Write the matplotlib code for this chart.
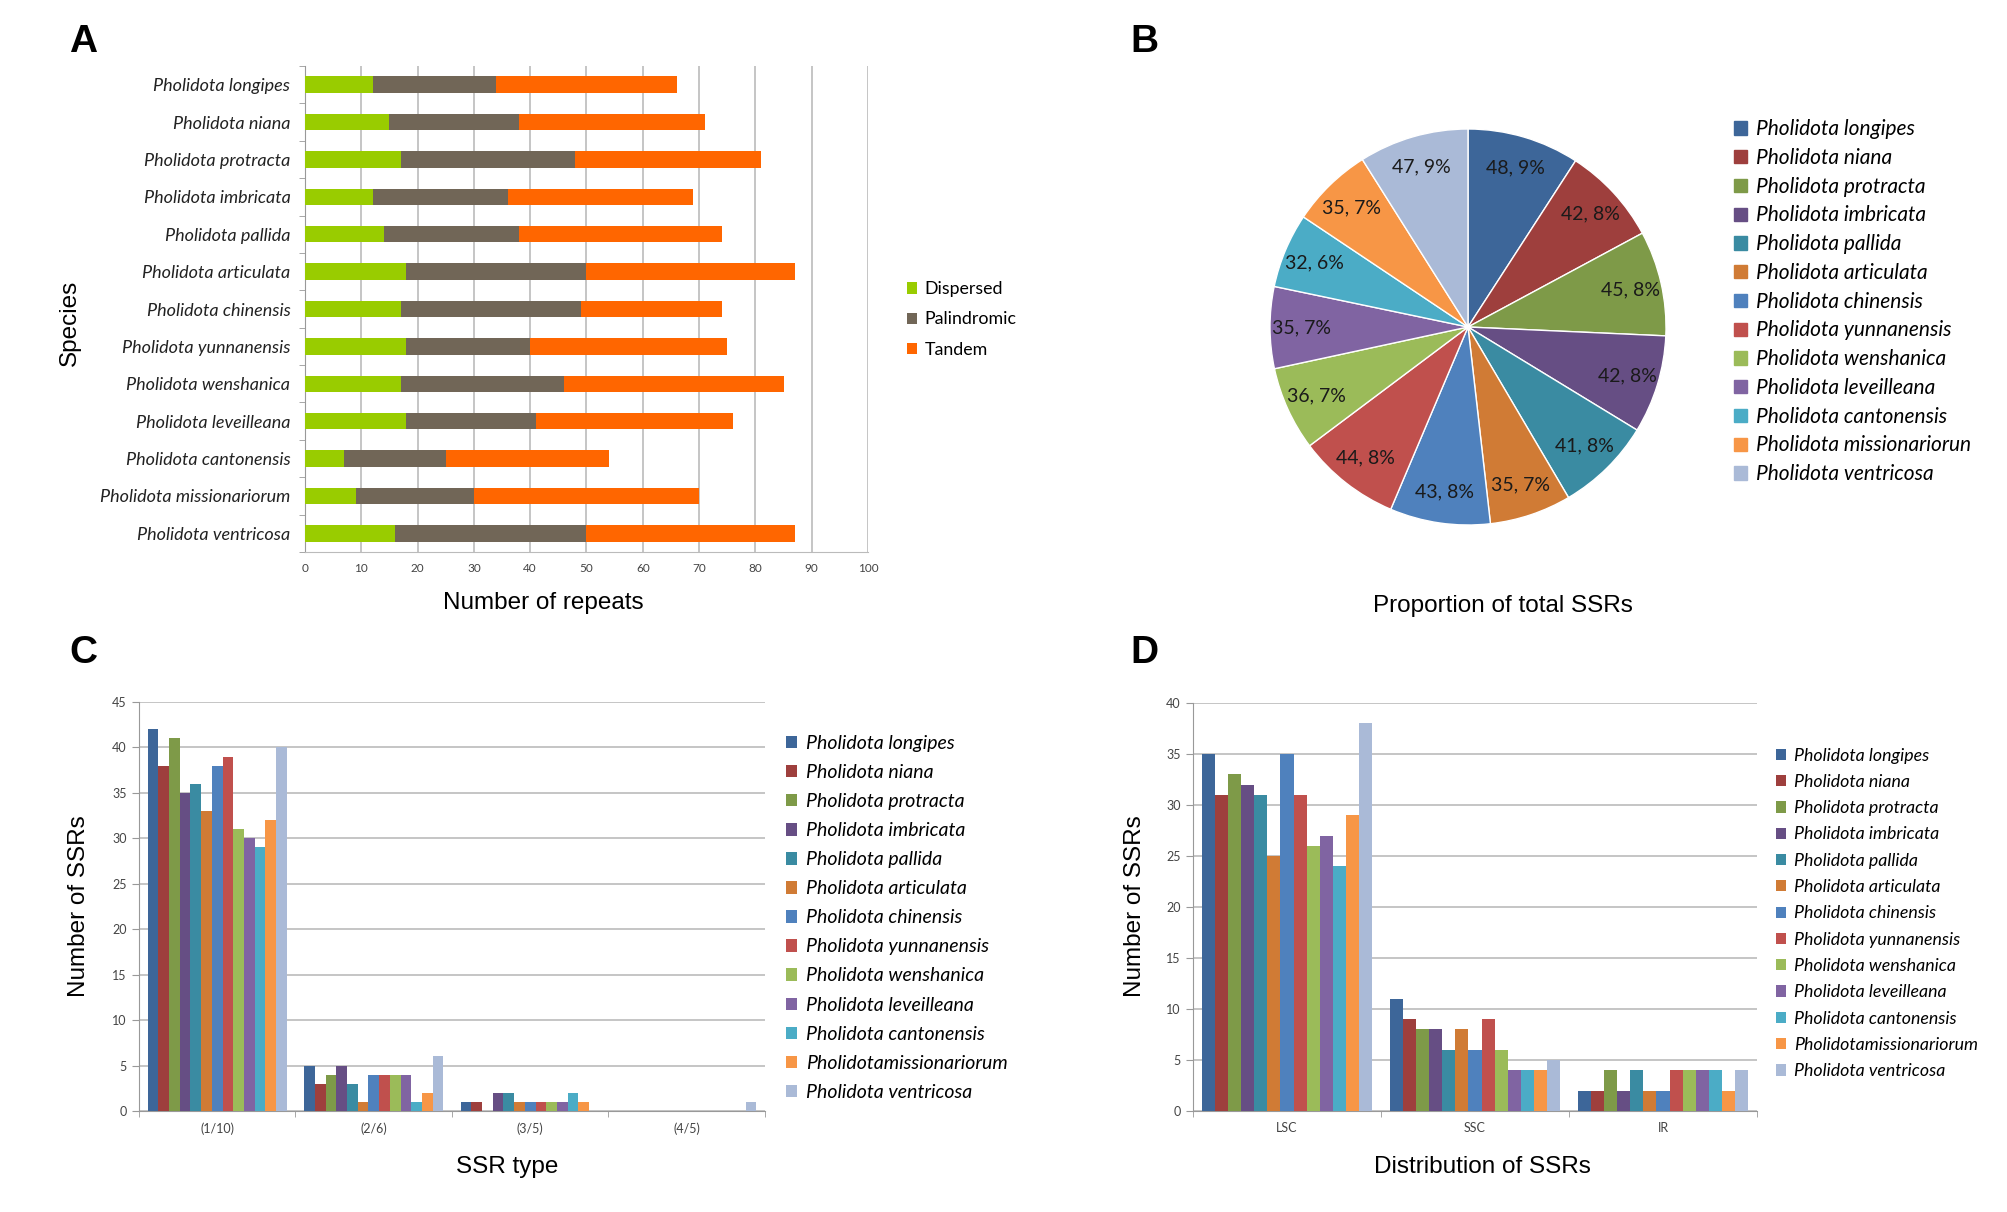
import matplotlib
matplotlib.use("Agg")
import matplotlib.pyplot as plt
import numpy as np
from matplotlib.patches import Patch

W, H = 2008, 1212

species = ["Pholidota longipes", "Pholidota niana", "Pholidota protracta",
           "Pholidota imbricata", "Pholidota pallida", "Pholidota articulata",
           "Pholidota chinensis", "Pholidota yunnanensis", "Pholidota wenshanica",
           "Pholidota leveilleana", "Pholidota cantonensis",
           "Pholidota missionariorum", "Pholidota ventricosa"]

# Panel A - repeats per species
dispersed = [12, 15, 17, 12, 14, 18, 17, 18, 17, 18, 7, 9, 16]
palindromic = [22, 23, 31, 24, 24, 32, 32, 22, 29, 23, 18, 21, 34]
tandem = [32, 33, 33, 33, 36, 37, 25, 35, 39, 35, 29, 40, 37]

# Panel B - total SSRs
total_ssr = [48, 42, 45, 42, 41, 35, 43, 44, 36, 35, 32, 35, 47]
pie_pct = [9, 8, 8, 8, 8, 7, 8, 8, 7, 7, 6, 7, 9]

# Panel C - SSR type, one list per species over (1/10), (2/6), (3/5), (4/5)
ssr_types = ["(1/10)", "(2/6)", "(3/5)", "(4/5)"]
ssr_type_counts = [
    [42, 5, 1, 0], [38, 3, 1, 0], [41, 4, 0, 0], [35, 5, 2, 0],
    [36, 3, 2, 0], [33, 1, 1, 0], [38, 4, 1, 0], [39, 4, 1, 0],
    [31, 4, 1, 0], [30, 4, 1, 0], [29, 1, 2, 0], [32, 2, 1, 0],
    [40, 6, 0, 1],
]

# Panel D - SSR distribution over LSC, SSC, IR
regions = ["LSC", "SSC", "IR"]
region_counts = [
    [35, 11, 2], [31, 9, 2], [33, 8, 4], [32, 8, 2], [31, 6, 4],
    [25, 8, 2], [35, 6, 2], [31, 9, 4], [26, 6, 4], [27, 4, 4],
    [24, 4, 4], [29, 4, 2], [38, 5, 4],
]

sp_colors = ["#3D6699", "#9E3F3D", "#7E9A48", "#664E84", "#3A8BA2", "#D07B35",
             "#4F81BD", "#C0504D", "#9BBB59", "#8064A2", "#4BACC6", "#F79646",
             "#AABAD7"]
legend_names_cd = species[:11] + ["Pholidotamissionariorum", "Pholidota ventricosa"]
legend_names_b = species[:11] + ["Pholidota missionariorun", "Pholidota ventricosa"]

tick_font = "Lato"
label_font = "Liberation Sans"
label_size = 17.5


def box(x0, y0, x1, y1):
    # pixel box (top-left origin) to figure fraction rect
    return [x0 / W, 1 - y1 / H, (x1 - x0) / W, (y1 - y0) / H]


def ftext(x, y, s, **kw):
    fig.text(x / W, 1 - y / H, s, **kw)


fig = plt.figure(figsize=(W / 100, H / 100), dpi=100)

# ---------------- A ----------------
axA = fig.add_axes(box(305, 66, 868, 552))
y = np.arange(len(species))
left = np.zeros(len(species))
for vals, col, name in [(dispersed, "#99CC00", "Dispersed"),
                        (palindromic, "#716657", "Palindromic"),
                        (tandem, "#FF6600", "Tandem")]:
    axA.barh(y, vals, left=left, height=0.44, color=col, label=name, zorder=3)
    left = left + np.array(vals)
axA.set_ylim(len(species) - 0.5, -0.5)
axA.set_xlim(0, 100)
axA.set_xticks(range(0, 101, 10))
axA.set_yticks(y)
axA.set_yticklabels(species, fontstyle="italic", family=tick_font, fontsize=13, color="#222222")
axA.set_yticks(np.arange(-0.5, len(species), 1), minor=True)
axA.tick_params(axis="y", which="major", length=0, pad=10.5)
axA.tick_params(axis="y", which="minor", length=4, color="#999999")
axA.tick_params(axis="x", length=0, labelsize=8.5, labelcolor="#444444", pad=8)
for t in axA.get_xticklabels():
    t.set_family(tick_font)
axA.grid(axis="x", color="#BBBBBB", lw=1.2, zorder=0)
for s in ["top", "right"]:
    axA.spines[s].set_visible(False)
axA.spines["left"].set_color("#999999")
axA.spines["bottom"].set_color("#BBBBBB")
axA.legend(loc="upper left", bbox_to_anchor=(1.04, 0.59), frameon=False,
           prop={"family": tick_font, "size": 12.8}, handlelength=0.6,
           handleheight=0.6, handletextpad=0.4, labelspacing=0.8)
ftext(70, 323, "Species", rotation=90, ha="center", va="center",
      family=label_font, fontsize=label_size)
ftext(543, 603, "Number of repeats", ha="center", va="center",
      family=label_font, fontsize=label_size)

# ---------------- B ----------------
axB = fig.add_axes(box(1270, 129, 1666, 525))
labels_b = [f"{v}, {p}%" for v, p in zip(total_ssr, pie_pct)]
wedges, texts = axB.pie(total_ssr, colors=sp_colors, startangle=90,
                        counterclock=False, labels=labels_b, labeldistance=0.84,
                        wedgeprops={"edgecolor": "white", "linewidth": 1},
                        textprops={"family": tick_font, "fontsize": 14,
                                   "color": "#1a1a1a", "ha": "center", "va": "center"})
axB.set_xlim(-1, 1)
axB.set_ylim(-1, 1)
axB.set_aspect("equal")
handlesB = [Patch(color=c) for c in sp_colors]
axB.legend(handlesB, legend_names_b, loc="upper left", bbox_to_anchor=(1.125, 1.072),
           frameon=False, prop={"family": tick_font, "size": 15, "style": "italic"},
           handlelength=0.6, handleheight=0.6, handletextpad=0.45, labelspacing=0.42)
ftext(1503, 606, "Proportion of total SSRs", ha="center", va="center",
      family=label_font, fontsize=label_size)


def grouped(ax, cats, counts, ymax, ystep, gw=0.89):
    n = len(counts)
    bw = gw / n
    x = np.arange(len(cats))
    for i, vals in enumerate(counts):
        ax.bar(x - gw / 2 + bw * (i + 0.5), vals, width=bw, color=sp_colors[i],
               label=legend_names_cd[i], zorder=3)
    ax.set_xlim(-0.5, len(cats) - 0.5)
    ax.set_ylim(0, ymax)
    ax.set_yticks(range(0, ymax + 1, ystep))
    ax.set_xticks(x)
    ax.set_xticklabels(cats)
    ax.set_xticks(np.arange(-0.5, len(cats), 1), minor=True)
    ax.tick_params(axis="x", which="major", length=0, pad=8)
    ax.tick_params(axis="x", which="minor", length=4, color="#999999")
    ax.tick_params(axis="y", length=5, color="#999999", pad=4)
    ax.tick_params(labelsize=9, labelcolor="#444444")
    for t in ax.get_xticklabels() + ax.get_yticklabels():
        t.set_family(tick_font)
    ax.grid(axis="y", color="#BBBBBB", lw=1.2, zorder=0)
    for s in ["top", "right"]:
        ax.spines[s].set_visible(False)
    ax.spines["left"].set_color("#999999")
    ax.spines["bottom"].set_color("#999999")


# ---------------- C ----------------
axC = fig.add_axes(box(139, 702, 765, 1111))
grouped(axC, ssr_types, [list(r) for r in ssr_type_counts], 45, 5)
axC.legend(loc="upper left", bbox_to_anchor=(1.005, 0.962), frameon=False,
           prop={"family": tick_font, "size": 14, "style": "italic"},
           handlelength=0.6, handleheight=0.6, handletextpad=0.45, labelspacing=0.62)
ftext(79, 906, "Number of SSRs", rotation=90, ha="center", va="center",
      family=label_font, fontsize=label_size)
ftext(507, 1167, "SSR type", ha="center", va="center", family=label_font, fontsize=label_size)

# ---------------- D ----------------
axD = fig.add_axes(box(1193, 703, 1757, 1111))
grouped(axD, regions, [list(r) for r in region_counts], 40, 5, gw=0.9)
axD.legend(loc="upper left", bbox_to_anchor=(1.005, 0.93), frameon=False,
           prop={"family": tick_font, "size": 12.8, "style": "italic"},
           handlelength=0.6, handleheight=0.6, handletextpad=0.45, labelspacing=0.58)
ftext(1135, 906, "Number of SSRs", rotation=90, ha="center", va="center",
      family=label_font, fontsize=label_size)
ftext(1482, 1167, "Distribution of SSRs", ha="center", va="center",
      family=label_font, fontsize=label_size)

# panel letters
for lx, ly, s in [(83, 42, "A"), (1144, 42, "B"), (83, 653, "C"), (1144, 653, "D")]:
    ftext(lx, ly, s, ha="center", va="center", family=label_font,
          fontsize=28, fontweight="bold")

fig.savefig("out.png", dpi=100, facecolor="white")
